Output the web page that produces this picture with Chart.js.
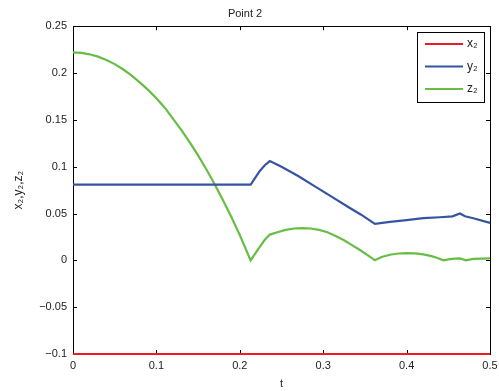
<!DOCTYPE html>
<html>
<head>
<meta charset="utf-8">
<script src="https://cdn.jsdelivr.net/npm/chart.js@4/dist/chart.umd.min.js"></script>
<style>
  html, body { margin: 0; padding: 0; background: #fff; }
  #wrap { width: 499px; height: 391px; }
</style>
</head>
<body>
<div id="wrap"><canvas id="chart"></canvas></div>
<script>
// series labels and colours
const seriesLabels = ['x\u2082', 'y\u2082', 'z\u2082'];
const seriesColors = ['rgb(237,28,36)', 'rgb(54,84,164)', 'rgb(104,189,69)'];

// values
const tX = [0, 0.5];
const xValues = [-0.1, -0.1];

const tY = [0, 0.213, 0.218, 0.224, 0.23, 0.236, 0.25, 0.27, 0.29, 0.31, 0.33, 0.345, 0.362,
  0.38, 0.4, 0.42, 0.44, 0.455, 0.464, 0.47, 0.48, 0.5];
const yValues = [0.0808, 0.0808, 0.0875, 0.0955, 0.1015, 0.106, 0.1, 0.09, 0.079, 0.068, 0.057, 0.049, 0.039,
  0.041, 0.043, 0.045, 0.046, 0.047, 0.05, 0.047, 0.045, 0.04];

const tZ = [0, 0.01, 0.02, 0.03, 0.04, 0.05, 0.06, 0.07, 0.08, 0.09, 0.1, 0.11, 0.12, 0.13, 0.14,
  0.15, 0.16, 0.17, 0.18, 0.19, 0.2, 0.213,
  0.222, 0.23, 0.236, 0.245, 0.255, 0.265, 0.275, 0.285, 0.295, 0.305, 0.315, 0.325, 0.335, 0.345, 0.355, 0.362,
  0.37, 0.38, 0.39, 0.4, 0.41, 0.42, 0.43, 0.437, 0.444, 0.452, 0.458, 0.464, 0.471, 0.48, 0.49, 0.5];
const zValues = [0.222, 0.2215, 0.220, 0.2175, 0.214, 0.2095, 0.204, 0.1975, 0.190, 0.182, 0.173, 0.163, 0.151, 0.139, 0.126,
  0.112, 0.097, 0.081, 0.064, 0.046, 0.027, 0,
  0.012, 0.022, 0.0275, 0.030, 0.0325, 0.034, 0.0345, 0.034, 0.0325, 0.030, 0.026, 0.0215, 0.016, 0.0105, 0.0045, 0,
  0.0035, 0.006, 0.0073, 0.0078, 0.0075, 0.0064, 0.0045, 0.0025, 0, 0.0013, 0.0019, 0.002, 0, 0.0015, 0.0019, 0.002];

const xTicks = [0, 0.1, 0.2, 0.3, 0.4, 0.5];
const yTicks = [-0.1, -0.05, 0, 0.05, 0.1, 0.15, 0.2, 0.25];

const FONT = 'Liberation Sans, Arial, sans-serif';

const toPoints = (ts, vs) => ts.map((t, i) => ({ x: t, y: vs[i] }));
const fmt = v => {
  const s = String(Math.round(v * 1000) / 1000);
  return s.replace('-', '\u2212');
};

// frame and inward ticks under the lines, boxed legend on top
const matlabAxes = {
  id: 'matlabAxes',
  beforeDatasetsDraw(chart) {
    const { ctx, chartArea: a, scales } = chart;
    ctx.save();
    ctx.strokeStyle = '#000';
    ctx.lineWidth = 1;
    ctx.beginPath();
    xTicks.forEach(v => {
      const px = Math.round(scales.x.getPixelForValue(v)) + 0.5;
      ctx.moveTo(px, a.bottom); ctx.lineTo(px, a.bottom - 4);
      ctx.moveTo(px, a.top); ctx.lineTo(px, a.top + 4);
    });
    yTicks.forEach(v => {
      const py = Math.round(scales.y.getPixelForValue(v)) + 0.5;
      ctx.moveTo(a.left, py); ctx.lineTo(a.left + 4, py);
      ctx.moveTo(a.right, py); ctx.lineTo(a.right - 4, py);
    });
    ctx.stroke();
    ctx.strokeRect(Math.round(a.left) + 0.5, Math.round(a.top) + 0.5,
      Math.round(a.right - a.left), Math.round(a.bottom - a.top));
    ctx.restore();
  },
  afterDatasetsDraw(chart) {
    const { ctx } = chart;
    ctx.save();
    const lx = 417, ly = 32, lw = 67, lh = 70;
    ctx.fillStyle = '#fff';
    ctx.fillRect(lx, ly, lw, lh);
    ctx.strokeStyle = '#000';
    ctx.lineWidth = 1;
    ctx.strokeRect(lx + 0.5, ly + 0.5, lw, lh);
    chart.data.datasets.forEach((ds, i) => {
      const y = ly + 12 + i * 22.5;
      ctx.strokeStyle = ds.borderColor;
      ctx.lineWidth = 2;
      ctx.beginPath();
      ctx.moveTo(lx + 8, y); ctx.lineTo(lx + 46, y);
      ctx.stroke();
      ctx.fillStyle = '#222';
      ctx.font = '12px ' + FONT;
      ctx.textBaseline = 'middle';
      ctx.textAlign = 'left';
      ctx.fillText(ds.label, lx + 50, y);
    });
    ctx.restore();
  }
};

new Chart(document.getElementById('chart'), {
  type: 'line',
  data: {
    datasets: [
      { label: seriesLabels[0], data: toPoints(tX, xValues), borderColor: seriesColors[0] },
      { label: seriesLabels[1], data: toPoints(tY, yValues), borderColor: seriesColors[1] },
      { label: seriesLabels[2], data: toPoints(tZ, zValues), borderColor: seriesColors[2] }
    ].map(d => Object.assign(d, { borderWidth: 2.2, pointRadius: 0, tension: 0, fill: false, clip: 4 }))
  },
  options: {
    animation: false,
    responsive: true,
    maintainAspectRatio: false,
    layout: { padding: { left: 0, right: 9, top: 0, bottom: 0 } },
    plugins: {
      legend: { display: false },
      tooltip: { enabled: false },
      title: {
        display: true,
        text: 'Point 2',
        color: '#222',
        font: { family: FONT, size: 11, weight: 'normal' },
        padding: { top: 7, bottom: 6 }
      }
    },
    scales: {
      x: {
        type: 'linear',
        min: 0, max: 0.5,
        afterBuildTicks: s => { s.ticks = xTicks.map(v => ({ value: v })); },
        afterFit: s => { s.height = 37; s.paddingLeft = 0; s.paddingRight = 0; },
        grid: { display: false, drawTicks: false },
        border: { display: false },
        ticks: { color: '#222', font: { family: FONT, size: 11 }, padding: 5, maxRotation: 0, callback: v => fmt(v) },
        title: { display: true, text: 't', color: '#222', font: { family: FONT, size: 11 }, padding: { top: 2, bottom: 0 } }
      },
      y: {
        type: 'linear',
        min: -0.1, max: 0.25,
        afterBuildTicks: s => { s.ticks = yTicks.map(v => ({ value: v })); },
        afterFit: s => { s.width = 73; s.paddingTop = 0; s.paddingBottom = 0; },
        grid: { display: false, drawTicks: false },
        border: { display: false },
        ticks: { color: '#222', font: { family: FONT, size: 11 }, padding: 6, callback: v => fmt(v) },
        title: { display: true, text: 'x\u2082,y\u2082,z\u2082', color: '#222', font: { family: FONT, size: 12 }, padding: { top: 11, bottom: 4 } }
      }
    }
  },
  plugins: [matlabAxes]
});
</script>
</body>
</html>
